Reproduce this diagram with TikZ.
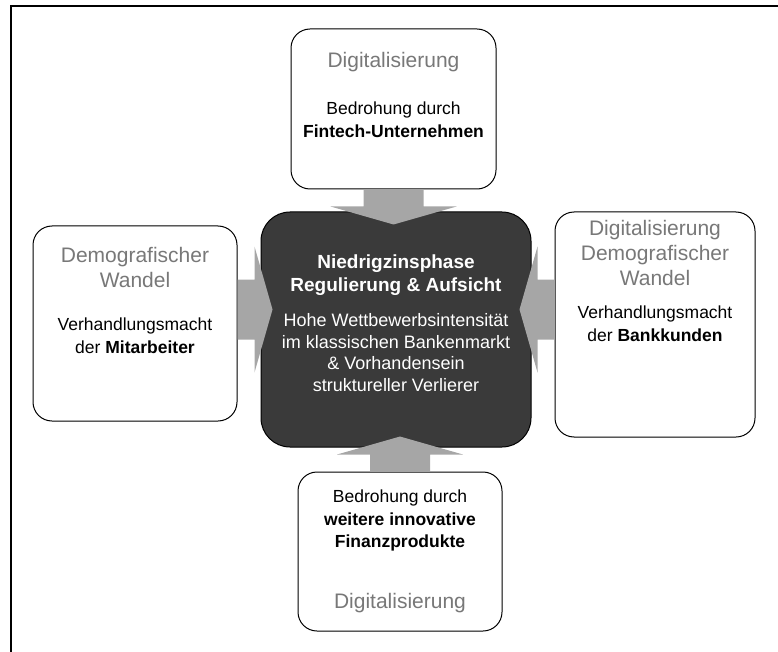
\documentclass[tikz,border=0pt]{standalone}
\usepackage{fontspec}
\setmainfont{Liberation Sans}
\usepackage{tikz}
\usetikzlibrary{positioning,calc}
\definecolor{corefill}{HTML}{3A3A3A}
\definecolor{arrowgray}{HTML}{A6A6A6}
\definecolor{headgray}{HTML}{787878}
\tikzset{
  outerbox/.style  = {shape=rectangle, draw, rounded corners=19pt,
                      fill=white, line width=1pt, inner sep=0pt},
  corebox/.style   = {outerbox, rounded corners=29pt, fill=corefill},
  headtext/.style  = {font=\fontsize{21}{25}\selectfont, text=headgray,
                      align=center, inner sep=0pt},
  bodytext/.style  = {font=\fontsize{17.5}{22.5}\selectfont,
                      align=center, inner sep=0pt},
  coretitle/.style = {font=\fontsize{19}{23}\selectfont\bfseries, text=white,
                      align=center, inner sep=0pt},
  corebody/.style  = {font=\fontsize{18}{21.5}\selectfont, text=white,
                      align=center, inner sep=0pt}
}

\begin{document}
\begin{tikzpicture}[x=1pt,y=-1pt]
  \useasboundingbox (0,0) rectangle (778,652);
  \draw[line width=1.6pt] (778,6) -- (11,6) -- (11,652);

  % boxes
  \node[outerbox, minimum width=205pt, minimum height=160pt] (topbox)   at (393.5,109)  {};
  \node[outerbox, minimum width=204pt, minimum height=195pt] (leftbox)  at (135,323.5)  {};
  \node[outerbox, minimum width=200pt, minimum height=225pt] (rightbox) at (655,324.5)  {};
  \node[outerbox, minimum width=204pt, minimum height=159pt] (botbox)   at (400,551.5)  {};
  \node[corebox,  minimum width=270pt, minimum height=235pt] (core)     at (396,329.5)  {};

  % arrows into the core
  \coordinate (leftfoot)  at ($(leftbox.east)+(0,-14)$);
  \coordinate (rightfoot) at ($(rightbox.west)+(0,-15)$);
  \foreach \start/\ang in {topbox.south/-90, botbox.north/90, leftfoot/0, rightfoot/180}
    \fill[arrowgray, shift={(\start)}, rotate=\ang]
      (0,-30) -- (17,-30) -- (17,-63) -- (35,0) -- (17,63) -- (17,30) -- (0,30) -- cycle;

  % texts
  \node[headtext, below=24pt of topbox.north]   (topHead)   {Digitalisierung};
  \node[bodytext, below=73.5pt of topbox.north] (topText)   {Bedrohung durch\\\textbf{Fintech-Unternehmen}};

  \node[headtext, below=22pt of leftbox.north]   (leftHead) {Demografischer\\Wandel};
  \node[bodytext, below=92.5pt of leftbox.north] (leftText) {Verhandlungsmacht\\der \textbf{Mitarbeiter}};

  \node[headtext, below=9pt of rightbox.north]    (rightHead) {Digitalisierung\\Demografischer\\Wandel};
  \node[bodytext, below=94.5pt of rightbox.north] (rightText) {Verhandlungsmacht\\der \textbf{Bankkunden}};

  \node[bodytext, below=18.5pt of botbox.north] (botText) {Bedrohung durch\\\textbf{weitere innovative}\\\textbf{Finanzprodukte}};
  \node[headtext, below=122pt of botbox.north]  (botHead) {Digitalisierung};

  \node[coretitle, below=43.5pt of core.north] (coreHead) {Niedrigzinsphase\\Regulierung \& Aufsicht};
  \node[corebody,  below=102pt of core.north]  (coreText) {Hohe Wettbewerbsintensität\\im klassischen Bankenmarkt\\\& Vorhandensein\\struktureller Verlierer};
\end{tikzpicture}
\end{document}
